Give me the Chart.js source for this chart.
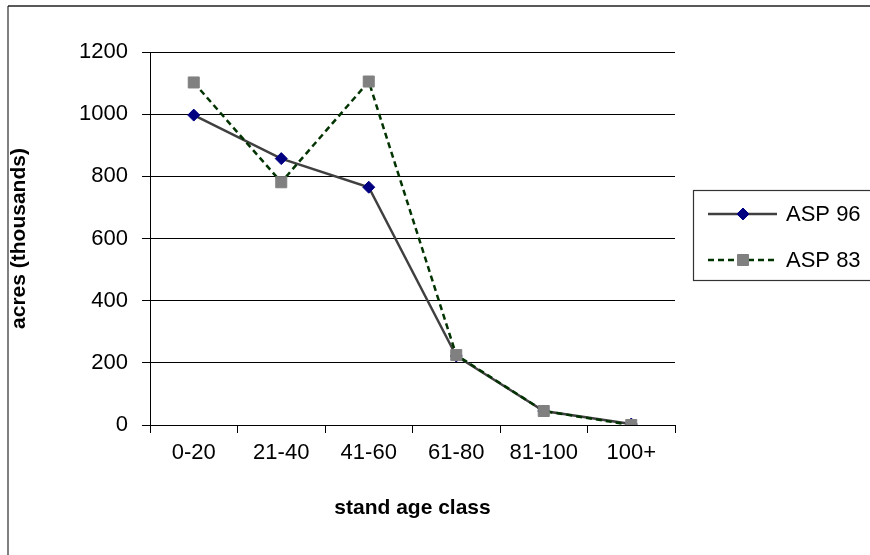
<!DOCTYPE html>
<html>
<head>
<meta charset="utf-8">
<script src="https://cdn.jsdelivr.net/npm/chart.js@4/dist/chart.umd.min.js"></script>
<style>
  html, body { margin: 0; padding: 0; background: #fff; }
  #wrap { width: 870px; height: 555px; position: relative; }
</style>
</head>
<body>
<div id="wrap"><canvas id="grafico"></canvas></div>
<script>
const categorias = ["0-20", "21-40", "41-60", "61-80", "81-100", "100+"];
const asp96 = [997, 857, 765, 222, 45, 3];
const asp83 = [1102, 781, 1105, 225, 45, 0];
const nomesSeries = ["ASP 96", "ASP 83"];
const yMin = 0, yMax = 1200, yPasso = 200;

const fonte = "'Liberation Sans', Arial, sans-serif";

// moldura da figura (borda esquerda e linha de cima)
const moldura = {
  id: "moldura",
  beforeDraw(chart) {
    const ctx = chart.ctx;
    ctx.save();
    ctx.fillStyle = "#ffffff";
    ctx.fillRect(0, 0, chart.width, chart.height);
    ctx.strokeStyle = "#808080";
    ctx.lineWidth = 2;
    ctx.beginPath();
    ctx.moveTo(8, 6);
    ctx.lineTo(8, chart.height);
    ctx.stroke();
    ctx.strokeStyle = "#222222";
    ctx.lineWidth = 1.5;
    ctx.beginPath();
    ctx.moveTo(8, 6);
    ctx.lineTo(chart.width, 6);
    ctx.stroke();
    ctx.restore();
  }
};

// legenda no estilo do Excel: linha + marcador
const legenda = {
  id: "legendaExcel",
  afterDraw(chart) {
    const ctx = chart.ctx;
    ctx.save();
    ctx.strokeStyle = "#333333";
    ctx.lineWidth = 1.2;
    ctx.strokeRect(693.5, 190.5, 200, 90);

    chart.data.datasets.forEach((ds, i) => {
      const y = 214 + i * 46;
      ctx.strokeStyle = ds.borderColor;
      ctx.lineWidth = ds.borderWidth;
      ctx.setLineDash(ds.borderDash || []);
      ctx.beginPath();
      ctx.moveTo(708, y);
      ctx.lineTo(777, y);
      ctx.stroke();
      ctx.setLineDash([]);
      ctx.fillStyle = ds.pointBackgroundColor;
      ctx.strokeStyle = ds.pointBorderColor;
      ctx.lineWidth = 1;
      Chart.helpers.drawPoint(ctx, {
        pointStyle: ds.pointStyle,
        radius: ds.pointRadius,
        borderWidth: 1,
        rotation: 0
      }, 743, y);
      ctx.fillStyle = "#000000";
      ctx.font = "22px " + fonte;
      ctx.textBaseline = "middle";
      ctx.textAlign = "left";
      ctx.fillText(ds.label, 786, y + 1);
    });
    ctx.restore();
  }
};

const ctx = document.getElementById("grafico").getContext("2d");
new Chart(ctx, {
  type: "line",
  data: {
    labels: categorias,
    datasets: [
      {
        label: nomesSeries[0],
        data: asp96,
        order: 1,
        borderColor: "#404040",
        borderWidth: 2.5,
        pointStyle: "rectRot",
        pointRadius: 6,
        pointBackgroundColor: "#000080",
        pointBorderColor: "#000080",
        pointBorderWidth: 1,
        tension: 0
      },
      {
        label: nomesSeries[1],
        data: asp83,
        order: 0,
        borderColor: "#003300",
        borderWidth: 2.5,
        borderDash: [6, 4],
        pointStyle: "rect",
        pointRadius: 7.8,
        pointBackgroundColor: "#808080",
        pointBorderColor: "#808080",
        pointBorderWidth: 1,
        tension: 0
      }
    ]
  },
  options: {
    responsive: true,
    maintainAspectRatio: false,
    animation: false,
    layout: {
      padding: { left: 0, top: 52, right: 195, bottom: 0 }
    },
    plugins: {
      legend: { display: false },
      tooltip: { enabled: false }
    },
    scales: {
      x: {
        offset: true,
        afterFit(scale) { scale.height = 130; },
        grid: {
          offset: true,
          drawOnChartArea: false,
          color: "#000000",
          tickLength: 8,
          tickColor: "#000000"
        },
        border: { color: "#000000", width: 1 },
        ticks: {
          color: "#000000",
          padding: 7,
          maxRotation: 0,
          autoSkip: false,
          font: { size: 22, family: fonte }
        },
        title: {
          display: true,
          text: "stand age class",
          color: "#000000",
          padding: { top: 0, bottom: 34 },
          font: { size: 21, weight: "bold", family: fonte }
        }
      },
      y: {
        min: yMin,
        max: yMax,
        afterFit(scale) { scale.width = 150; },
        grid: {
          color: "#000000",
          lineWidth: 1,
          tickLength: 8,
          tickColor: "#000000"
        },
        border: { color: "#000000", width: 1 },
        ticks: {
          stepSize: yPasso,
          color: "#000000",
          padding: 14,
          font: { size: 22, family: fonte },
          callback: v => String(v)
        },
        title: {
          display: true,
          text: "acres (thousands)",
          color: "#000000",
          padding: { top: 7, bottom: 0 },
          font: { size: 21, weight: "bold", family: fonte }
        }
      }
    }
  },
  plugins: [moldura, legenda]
});
</script>
</body>
</html>
